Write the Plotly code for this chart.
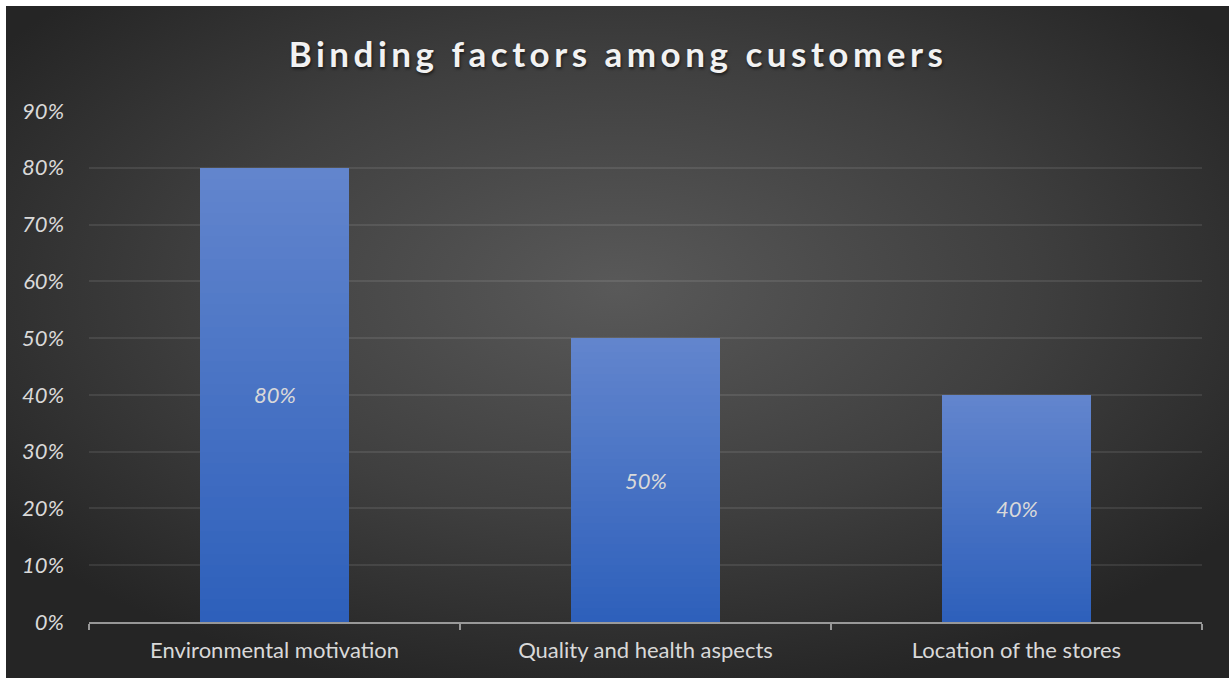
import base64
import plotly.graph_objects as go

# Survey results: share of customers naming each binding factor
categories = ["Environmental motivation", "Quality and health aspects", "Location of the stores"]
shares = [0.80, 0.50, 0.40]
value_labels = ["80%", "50%", "40%"]
y_tick_values = [0, 0.1, 0.2, 0.3, 0.4, 0.5, 0.6, 0.7, 0.8, 0.9]
y_tick_labels = ["0%", "10%", "20%", "30%", "40%", "50%", "60%", "70%", "80%", "90%"]

W, H = 1229, 680
L, R, T, B = 89, 27, 111, 58
plot_w = W - L - R
plot_h = H - T - B

FONT = "Lato"
TEXT = "#d9d9d9"

# Dark radial backdrop
svg = (
    '<svg xmlns="http://www.w3.org/2000/svg" width="1223" height="672" viewBox="0 0 1223 672" '
    'preserveAspectRatio="none">'
    '<defs><radialGradient id="g" cx="50%" cy="42%" r="62%" fx="50%" fy="42%">'
    '<stop offset="0" stop-color="#595959"/>'
    '<stop offset="0.55" stop-color="#3f3f3f"/>'
    '<stop offset="1" stop-color="#252525"/>'
    '</radialGradient></defs>'
    '<rect width="1223" height="672" fill="url(#g)"/></svg>'
)
bg_src = "data:image/svg+xml;base64," + base64.b64encode(svg.encode()).decode()


def mix(c1, c2, t):
    a = [int(c1[i:i + 2], 16) for i in (1, 3, 5)]
    b = [int(c2[i:i + 2], 16) for i in (1, 3, 5)]
    return "#" + "".join(f"{round(x + (y - x) * t):02x}" for x, y in zip(a, b))


fig = go.Figure()

# Each bar is built from stacked slices so it fades from deep blue up to a lighter blue
BOTTOM, TOP = "#2e60bb", "#6285cd"
N = 40
for k in range(N):
    fig.add_trace(go.Bar(
        x=categories,
        y=[v / N for v in shares],
        marker=dict(color=mix(BOTTOM, TOP, k / (N - 1)), line=dict(width=0)),
        width=0.4,
        hoverinfo="skip",
        showlegend=False,
    ))

# Value labels centred in each bar
for cat, v, lab in zip(categories, shares, value_labels):
    fig.add_annotation(
        x=cat, y=v / 2, text=lab, showarrow=False,
        font=dict(family=FONT, size=22, color=TEXT, style="italic"),
    )

fig.update_layout(
    width=W, height=H,
    margin=dict(l=L, r=R, t=T, b=B, pad=0),
    paper_bgcolor="white",
    plot_bgcolor="rgba(0,0,0,0)",
    barmode="stack",
    bargap=0.6,
    showlegend=False,
    title=dict(
        text="Binding factors among customers",
        x=618 / W, xref="container", xanchor="center",
        y=1 - 55 / H, yref="container", yanchor="middle",
        font=dict(family=FONT, size=35, color="#f2f2f2", weight="bold",
                  shadow="1px 2px 3px rgba(0,0,0,0.55)"),
    ),
    images=[dict(
        source=bg_src, xref="paper", yref="paper",
        x=(6 - L) / plot_w, y=(H - B - 6) / plot_h,
        sizex=(W - 6) / plot_w, sizey=(H - 8) / plot_h,
        xanchor="left", yanchor="top", sizing="stretch", layer="below",
    )],
    xaxis=dict(
        type="category",
        showgrid=False,
        showline=True, linecolor="rgba(190,190,190,0.75)", linewidth=2,
        ticks="outside", tickson="boundaries", ticklen=6, tickwidth=2,
        tickcolor="rgba(190,190,190,0.75)",
        tickfont=dict(family=FONT, size=22, color=TEXT),
        ticklabelstandoff=8,
    ),
    yaxis=dict(
        range=[0, 0.9],
        tickvals=y_tick_values, ticktext=y_tick_labels,
        showgrid=True, gridcolor="rgba(255,255,255,0.09)", gridwidth=2,
        zeroline=False, showline=False,
        tickfont=dict(family=FONT, size=22, color=TEXT, style="italic"),
        ticklabelstandoff=24,
    ),
)

# Widen the title's letter spacing once the chart has rendered
spacing_js = (
    "var t = document.querySelector('.gtitle');"
    "if (t) { t.style.letterSpacing = '4.5px'; }"
)

fig.write_html("out.html", post_script=spacing_js)
